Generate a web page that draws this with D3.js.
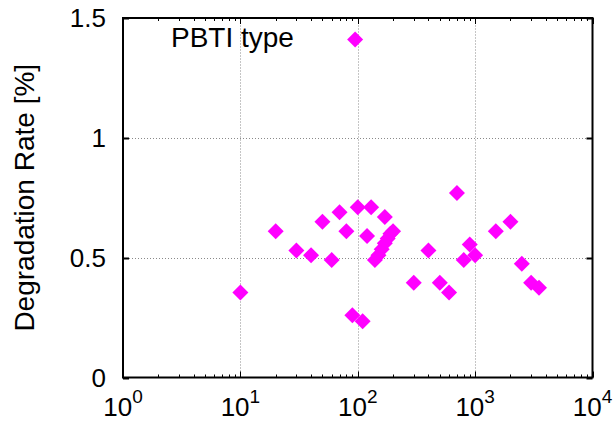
<!DOCTYPE html>
<html>
<head>
<meta charset="utf-8">
<script src="https://cdn.jsdelivr.net/npm/d3@7"></script>
<style>
  html, body { margin: 0; padding: 0; background: #fff; }
  svg { display: block; font-family: "Liberation Sans", Arial, Helvetica, sans-serif; }
</style>
</head>
<body>
<svg id="chart" width="614" height="423"></svg>
<script>
// Stress time (x, log scale) and degradation rate in percent (y)
const stressTime = [10, 20, 30, 40, 50, 60, 70, 80, 90, 95, 100, 110, 120, 130, 140, 150, 160, 170, 170, 180, 190, 200,
                    300, 400, 500, 600, 700, 800, 900, 1000, 1500, 2000, 2500, 3000, 3500];
const degradationRate = [0.355, 0.61, 0.53, 0.51, 0.65, 0.49, 0.69, 0.61, 0.26, 1.41, 0.71, 0.235, 0.59, 0.71, 0.49, 0.51, 0.535, 0.67, 0.56, 0.58, 0.60, 0.61,
                         0.395, 0.53, 0.395, 0.355, 0.77, 0.49, 0.555, 0.51, 0.61, 0.65, 0.475, 0.395, 0.375];
const xTickExponents = [0, 1, 2, 3, 4];
const yTicks = [0, 0.5, 1, 1.5];
const yGrid = [0.5, 1];
const xGrid = [10, 100, 1000];
const seriesLabel = "PBTI type";
const yTitle = "Degradation Rate [%]";

const svg = d3.select("#chart");
const margin = { left: 123, right: 614 - 592.5, top: 18, bottom: 423 - 377.5 };
const W = 614, H = 423;
const x0 = margin.left, x1 = W - margin.right, y0 = H - margin.bottom, y1 = margin.top;

const x = d3.scaleLog().domain([1, 1e4]).range([x0, x1]);
const y = d3.scaleLinear().domain([0, 1.5]).range([y0, y1]);

// dotted grid
const grid = svg.append("g").attr("stroke", "#8a8a8a").attr("stroke-width", 1).attr("stroke-dasharray", "1,2");
grid.selectAll("line.gx").data(xGrid).join("line")
  .attr("x1", d => Math.round(x(d)) + 0.5).attr("x2", d => Math.round(x(d)) + 0.5)
  .attr("y1", y0).attr("y2", y1);
grid.selectAll("line.gy").data(yGrid).join("line")
  .attr("y1", d => Math.round(y(d)) + 0.5).attr("y2", d => Math.round(y(d)) + 0.5)
  .attr("x1", x0).attr("x2", x1);

// inward ticks on all four sides
const minorVals = [];
for (let e = 0; e < 4; e++) for (let m = 1; m <= 9; m++) minorVals.push(m * Math.pow(10, e));
minorVals.push(1e4);
const ticks = svg.append("g").attr("stroke", "#000").attr("stroke-width", 1);
minorVals.forEach(v => {
  const major = (Math.log10(v) % 1) === 0;
  const len = major ? 6 : 3;
  const px = Math.round(x(v)) + 0.5;
  ticks.append("line").attr("x1", px).attr("x2", px).attr("y1", y0).attr("y2", y0 - len);
  ticks.append("line").attr("x1", px).attr("x2", px).attr("y1", y1).attr("y2", y1 + len);
});
yTicks.forEach(v => {
  const py = Math.round(y(v)) + 0.5;
  ticks.append("line").attr("x1", x0).attr("x2", x0 + 6).attr("y1", py).attr("y2", py).attr("stroke-width", 2);
  ticks.append("line").attr("x1", x1).attr("x2", x1 - 6).attr("y1", py).attr("y2", py).attr("stroke-width", 2);
});

// frame
svg.append("rect").attr("x", x0).attr("y", y1).attr("width", x1 - x0).attr("height", y0 - y1)
  .attr("fill", "none").attr("stroke", "#000").attr("stroke-width", 2);

// y tick labels
svg.append("g").selectAll("text").data(yTicks).join("text")
  .attr("x", x0 - 17).attr("y", d => y(d)).attr("dy", "0.36em")
  .attr("text-anchor", "end").attr("font-size", 26).attr("fill", "#000")
  .text(d => d3.format("~g")(d));

// x tick labels: 10^n
const xl = svg.append("g").selectAll("text").data(xTickExponents).join("text")
  .attr("x", d => x(Math.pow(10, d))).attr("y", 416)
  .attr("text-anchor", "middle").attr("font-size", 26).attr("fill", "#000");
xl.append("tspan").text("10");
xl.append("tspan").attr("dy", -13).attr("font-size", 19).text(d => d);

// y axis title
svg.append("text")
  .attr("transform", `translate(33.5, ${(y0 + y1) / 2}) rotate(-90)`)
  .attr("text-anchor", "middle").attr("font-size", 28).attr("fill", "#000")
  .text(yTitle);

// series label
svg.append("text").attr("x", 171).attr("y", 47)
  .attr("font-size", 28).attr("fill", "#000").text(seriesLabel);

// diamond markers
const pts = stressTime.map((t, i) => ({ t, r: degradationRate[i] }));
const s = 8;
svg.append("g").selectAll("path").data(pts).join("path")
  .attr("d", d => {
    const cx = x(d.t), cy = y(d.r);
    return `M${cx},${cy - s}L${cx + s},${cy}L${cx},${cy + s}L${cx - s},${cy}Z`;
  })
  .attr("fill", "#ff00ff");
</script>
</body>
</html>
